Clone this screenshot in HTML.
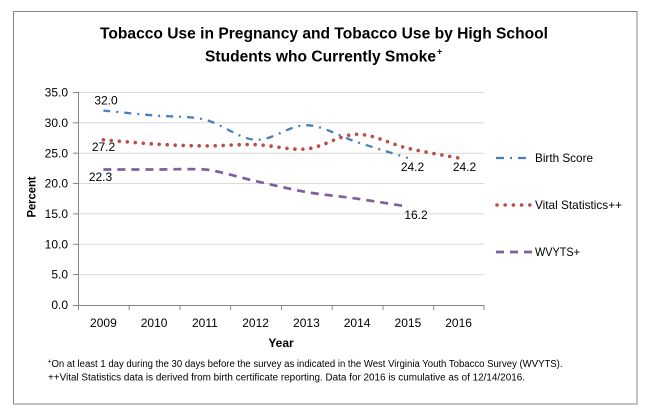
<!DOCTYPE html>
<html>
<head>
<meta charset="utf-8">
<style>
  html,body{margin:0;padding:0;background:#fff;}
  svg{display:block;}
  text{font-family:"Liberation Sans",Arial,sans-serif;fill:#000;}
</style>
</head>
<body>
<svg width="657" height="416" viewBox="0 0 657 416" xmlns="http://www.w3.org/2000/svg">
  <rect x="0" y="0" width="657" height="416" fill="#fff"/>
  <!-- chart border -->
  <rect x="13.5" y="11.5" width="623.5" height="392.5" fill="#fff" stroke="#868686" stroke-width="1"/>

  <!-- Title -->
  <text x="100" y="38.5" font-size="16" font-weight="bold" textLength="448" lengthAdjust="spacingAndGlyphs">Tobacco Use in Pregnancy and Tobacco Use by High School</text>
  <text x="205" y="61.5" font-size="16" font-weight="bold" textLength="231" lengthAdjust="spacingAndGlyphs">Students who Currently Smoke</text>
  <text x="437" y="54.5" font-size="9" font-weight="bold">+</text>

  <!-- gridlines -->
  <g stroke="#D9D9D9" stroke-width="1">
    <line x1="78" y1="92.5" x2="484" y2="92.5"/>
    <line x1="78" y1="122.8" x2="484" y2="122.8"/>
    <line x1="78" y1="153.2" x2="484" y2="153.2"/>
    <line x1="78" y1="183.5" x2="484" y2="183.5"/>
    <line x1="78" y1="213.9" x2="484" y2="213.9"/>
    <line x1="78" y1="244.3" x2="484" y2="244.3"/>
    <line x1="78" y1="274.6" x2="484" y2="274.6"/>
  </g>

  <!-- axes -->
  <g stroke="#868686" stroke-width="1">
    <line x1="78.5" y1="92" x2="78.5" y2="305.5"/>
    <line x1="78" y1="305.5" x2="484.5" y2="305.5"/>
    <!-- y ticks -->
    <line x1="73" y1="92.5" x2="78" y2="92.5"/>
    <line x1="73" y1="122.8" x2="78" y2="122.8"/>
    <line x1="73" y1="153.2" x2="78" y2="153.2"/>
    <line x1="73" y1="183.5" x2="78" y2="183.5"/>
    <line x1="73" y1="213.9" x2="78" y2="213.9"/>
    <line x1="73" y1="244.3" x2="78" y2="244.3"/>
    <line x1="73" y1="274.6" x2="78" y2="274.6"/>
    <line x1="73" y1="305.5" x2="78" y2="305.5"/>
    <!-- x ticks -->
    <line x1="78.5" y1="305" x2="78.5" y2="310"/>
    <line x1="129.2" y1="305" x2="129.2" y2="310"/>
    <line x1="180" y1="305" x2="180" y2="310"/>
    <line x1="230.7" y1="305" x2="230.7" y2="310"/>
    <line x1="281.5" y1="305" x2="281.5" y2="310"/>
    <line x1="332.2" y1="305" x2="332.2" y2="310"/>
    <line x1="383" y1="305" x2="383" y2="310"/>
    <line x1="433.7" y1="305" x2="433.7" y2="310"/>
    <line x1="484" y1="305" x2="484" y2="310"/>
  </g>

  <!-- y tick labels -->
  <g font-size="12" text-anchor="end">
    <text x="68" y="96.5">35.0</text>
    <text x="68" y="127">30.0</text>
    <text x="68" y="157.3">25.0</text>
    <text x="68" y="187.7">20.0</text>
    <text x="68" y="218">15.0</text>
    <text x="68" y="248.4">10.0</text>
    <text x="68" y="278.7">5.0</text>
    <text x="68" y="309.2">0.0</text>
  </g>

  <!-- x tick labels -->
  <g font-size="12" text-anchor="middle">
    <text x="103.4" y="327">2009</text>
    <text x="154.1" y="327">2010</text>
    <text x="204.9" y="327">2011</text>
    <text x="255.6" y="327">2012</text>
    <text x="306.4" y="327">2013</text>
    <text x="357.1" y="327">2014</text>
    <text x="407.9" y="327">2015</text>
    <text x="458.6" y="327">2016</text>
  </g>

  <!-- axis titles -->
  <text x="281" y="347" font-size="12" font-weight="bold" text-anchor="middle">Year</text>
  <text transform="translate(35.5,197) rotate(-90)" font-size="12" font-weight="bold" text-anchor="middle" textLength="41" lengthAdjust="spacingAndGlyphs">Percent</text>

  <!-- Series: Birth Score -->
  <path d="M103.4,110.6 C111.85,111.42 137.18,113.98 154.1,115.5 C171.02,117.02 187.98,115.65 204.9,119.7 C221.82,123.75 238.68,138.88 255.6,139.8 C272.52,140.72 289.48,124.8 306.4,125.2 C323.32,125.6 340.18,136.73 357.1,142.2 C374.02,147.67 399.43,155.37 407.9,158.0"
        fill="none" stroke="#4A7EBB" stroke-width="2.3" stroke-dasharray="7 6 2 6"/>

  <!-- Series: Vital Statistics -->
  <path d="M103.4,139.8 C111.85,140.5 137.18,142.98 154.1,144.0 C171.02,145.02 187.98,145.8 204.9,145.9 C221.82,146.0 238.68,144.1 255.6,144.6 C272.52,145.1 289.48,150.62 306.4,148.9 C323.32,147.18 340.18,134.4 357.1,134.3 C374.02,134.2 390.98,144.35 407.9,148.3 C424.82,152.25 450.15,156.38 458.6,158.0"
        fill="none" stroke="#BE4B48" stroke-width="3.6" stroke-linecap="round" stroke-dasharray="0 8"/>

  <!-- Series: WVYTS -->
  <path d="M103.4,169.5 C111.85,169.5 137.18,169.5 154.1,169.5 C171.02,169.5 187.98,168.6 204.9,169.5 C221.82,171.43 238.68,177.35 255.6,181.1 C272.52,184.85 289.48,189.07 306.4,192.0 C323.32,194.93 340.18,196.27 357.1,198.7 C374.02,201.13 399.43,205.28 407.9,206.6"
        fill="none" stroke="#7D60A0" stroke-width="2.7" stroke-dasharray="8 6"/>

  <!-- data labels -->
  <g font-size="12" text-anchor="middle">
    <text x="106" y="104.5">32.0</text>
    <text x="103.5" y="151">27.2</text>
    <text x="100.5" y="181">22.3</text>
    <text x="412.5" y="171">24.2</text>
    <text x="464.5" y="171">24.2</text>
    <text x="416" y="219">16.2</text>
  </g>

  <!-- legend -->
  <line x1="496" y1="158" x2="527" y2="158" stroke="#4A7EBB" stroke-width="2.3" stroke-dasharray="8 6 2 6"/>
  <text x="535" y="162" font-size="12" textLength="58" lengthAdjust="spacingAndGlyphs">Birth Score</text>
  <line x1="497" y1="205" x2="530" y2="205" stroke="#BE4B48" stroke-width="3.6" stroke-linecap="round" stroke-dasharray="0 8.2"/>
  <text x="535" y="209" font-size="12" textLength="87" lengthAdjust="spacingAndGlyphs">Vital Statistics++</text>
  <line x1="496" y1="252" x2="532" y2="252" stroke="#7D60A0" stroke-width="2.7" stroke-dasharray="8 6"/>
  <text x="535" y="256" font-size="12" textLength="45" lengthAdjust="spacingAndGlyphs">WVYTS+</text>

  <!-- footnotes -->
  <text x="47.5" y="363.5" font-size="7">+</text>
  <text x="51.5" y="367" font-size="10" textLength="511" lengthAdjust="spacingAndGlyphs">On at least 1 day during the 30 days before the survey as indicated in the West Virginia Youth Tobacco Survey (WVYTS).</text>
  <text x="48" y="380.5" font-size="10" textLength="477" lengthAdjust="spacingAndGlyphs">++Vital Statistics data is derived from birth certificate reporting.  Data for 2016 is cumulative as of 12/14/2016.</text>
</svg>
</body>
</html>
